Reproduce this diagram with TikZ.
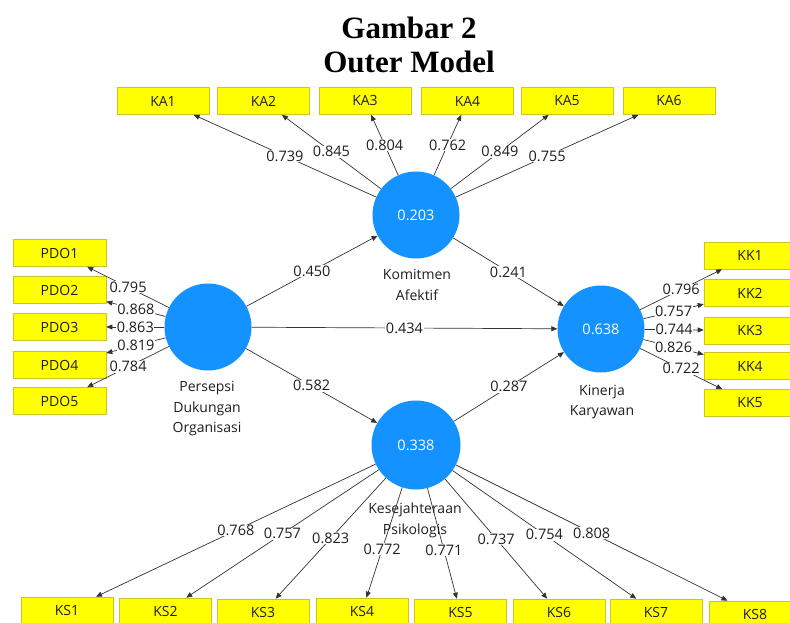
\documentclass[tikz,border=0pt]{standalone}
\usepackage{fontspec}
\setmainfont{Open Sans}
\newfontfamily\titlefont{Liberation Serif}
\usetikzlibrary{arrows.meta}
\definecolor{plsblue}{RGB}{20,146,255}
\definecolor{indyellow}{RGB}{255,255,0}
\definecolor{indborder}{RGB}{205,195,40}
\definecolor{linegray}{RGB}{50,50,50}
\definecolor{txtgray}{RGB}{30,30,30}
\begin{document}
\begin{tikzpicture}[x=1pt,y=-1pt,
  ind/.style={draw=indborder, line width=0.6pt, fill=indyellow, minimum width=92pt, minimum height=27pt, inner sep=0pt, font=\fontsize{14}{16}\selectfont, text=txtgray},
  lv/.style={circle, fill=plsblue, minimum size=87pt, inner sep=0pt, text=white, font=\fontsize{14.5}{16}\selectfont},
  lvlab/.style={align=center, font=\fontsize{14}{20.5}\selectfont, text=txtgray},
  conn/.style={draw=linegray, line width=0.7pt, -{Triangle[length=6pt,width=5pt]}},
  wt/.style={fill=white, inner sep=0.5pt, font=\fontsize{14.5}{16}\selectfont, text=txtgray, midway},
  ttl/.style={font=\titlefont\bfseries\fontsize{31}{34}\selectfont, text=black}
]
\useasboundingbox (0,0) rectangle (790,623);
\clip (0,0) rectangle (790,623);

% title
\node[ttl] (t1) at (409,27.5) {Gambar 2};
\node[ttl] (t2) at (409,61.5) {Outer Model};

% latent variables
\node[lv] (kom) at (416,215) {0.203};
\node[lv] (pdo) at (208,327) {};
\node[lv] (kin) at (601,329) {0.638};
\node[lv, minimum size=89pt] (kes) at (416,445) {0.338};

\node[lvlab] (komlab) at (417,285) {Komitmen\\Afektif};
\node[lvlab] (pdolab) at (207,409) {Persepsi\\Dukungan\\Organisasi};
\node[lvlab] (kinlab) at (602,402) {Kinerja\\Karyawan};

% indicators KA
\node[ind] (ka1) at (163,101) {KA1};
\node[ind] (ka2) at (263.5,101) {KA2};
\node[ind] (ka3) at (365,101) {KA3};
\node[ind] (ka4) at (467.5,101) {KA4};
\node[ind] (ka5) at (567,101) {KA5};
\node[ind] (ka6) at (669,101) {KA6};

% indicators PDO
\node[ind, minimum width=93pt] (pdo1) at (59.5,253) {PDO1};
\node[ind, minimum width=93pt] (pdo2) at (59.5,290) {PDO2};
\node[ind, minimum width=93pt] (pdo3) at (59.5,327) {PDO3};
\node[ind, minimum width=93pt] (pdo4) at (59.5,365) {PDO4};
\node[ind, minimum width=93pt] (pdo5) at (59.5,401) {PDO5};

% indicators KK
\node[ind] (kk1) at (750,255.5) {KK1};
\node[ind] (kk2) at (750,293) {KK2};
\node[ind] (kk3) at (750,330.5) {KK3};
\node[ind] (kk4) at (750,366) {KK4};
\node[ind] (kk5) at (750,403) {KK5};

% indicators KS
\node[ind] (ks1) at (67,610.5) {KS1};
\node[ind] (ks2) at (165.5,611.5) {KS2};
\node[ind] (ks3) at (263,612.5) {KS3};
\node[ind] (ks4) at (362,611.5) {KS4};
\node[ind] (ks5) at (460.5,612.5) {KS5};
\node[ind] (ks6) at (559,612.5) {KS6};
\node[ind] (ks7) at (656,612.5) {KS7};
\node[ind] (ks8) at (755,614.5) {KS8};

% structural paths
\draw[conn] (pdo) -- node[wt]{0.450} (kom);
\draw[conn] (pdo) -- node[wt]{0.434} (kin);
\draw[conn] (pdo) -- node[wt]{0.582} (kes);
\draw[conn] (kom) -- node[wt]{0.241} (kin);
\draw[conn] (kes) -- node[wt]{0.287} (kin);

% KA loadings
\draw[conn] (kom) -- node[wt]{0.739} (ka1);
\draw[conn] (kom) -- node[wt]{0.845} (ka2);
\draw[conn] (kom) -- node[wt]{0.804} (ka3);
\draw[conn] (kom) -- node[wt]{0.762} (ka4);
\draw[conn] (kom) -- node[wt]{0.849} (ka5);
\draw[conn] (kom) -- node[wt]{0.755} (ka6);

% PDO loadings
\draw[conn] (pdo) -- node[wt]{0.795} (pdo1);
\draw[conn] (pdo) -- node[wt]{0.868} (pdo2);
\draw[conn] (pdo) -- node[wt]{0.863} (pdo3);
\draw[conn] (pdo) -- node[wt]{0.819} (pdo4);
\draw[conn] (pdo) -- node[wt]{0.784} (pdo5);

% KK loadings
\draw[conn] (kin) -- node[wt]{0.796} (kk1);
\draw[conn] (kin) -- node[wt]{0.757} (kk2);
\draw[conn] (kin) -- node[wt]{0.744} (kk3);
\draw[conn] (kin) -- node[wt]{0.826} (kk4);
\draw[conn] (kin) -- node[wt]{0.722} (kk5);

% KS loadings
\draw[conn] (kes) -- node[wt]{0.768} (ks1);
\draw[conn] (kes) -- node[wt]{0.757} (ks2);
\draw[conn] (kes) -- node[wt]{0.823} (ks3);
\draw[conn] (kes) -- node[wt, pos=0.56]{0.772} (ks4);
\draw[conn] (kes) -- node[wt, pos=0.56]{0.771} (ks5);
\draw[conn] (kes) -- node[wt]{0.737} (ks6);
\draw[conn] (kes) -- node[wt]{0.754} (ks7);
\draw[conn] (kes) -- node[wt]{0.808} (ks8);

\node[lvlab] (keslab) at (415,520.5) {Kesejahteraan\\Psikologis};
\end{tikzpicture}
\end{document}
